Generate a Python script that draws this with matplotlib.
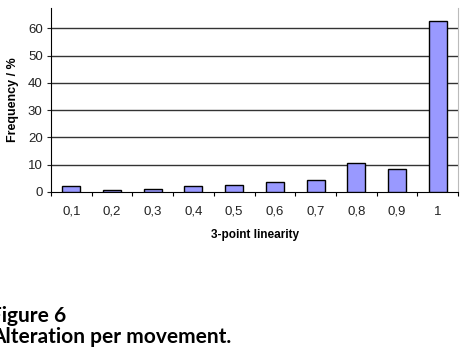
import numpy as np
import matplotlib.pyplot as plt

plt.rcParams['font.family'] = ['Liberation Sans', 'DejaVu Sans']

categories = ['0,1', '0,2', '0,3', '0,4', '0,5', '0,6', '0,7', '0,8', '0,9', '1']
frequency = [2.1, 0.85, 1.2, 2.1, 2.4, 3.7, 4.4, 10.5, 8.4, 62.9]

fig = plt.figure(figsize=(4.68, 3.52), dpi=100)
ax = fig.add_axes([51 / 468, 1 - 192 / 352, 407 / 468, 184 / 352])

x = np.arange(len(categories))
ax.bar(x, frequency, width=0.44, color='#9999ff', edgecolor='black', linewidth=1, zorder=3)

ax.set_xlim(-0.5, len(categories) - 0.5)
ax.set_ylim(0, 67.5)
ax.set_yticks(range(0, 70, 10))
ax.set_xticks(x)
ax.set_xticklabels(categories)
ax.set_xticks(np.arange(-0.5, len(categories), 1), minor=True)
ax.tick_params(axis='x', which='major', length=0, pad=10, labelsize=9.5, colors='#222222')
ax.tick_params(axis='x', which='minor', length=3, width=0.8, direction='out')
ax.tick_params(axis='y', length=3, width=0.8, direction='out', pad=3, labelsize=9.5, colors='#222222')

for v in range(10, 70, 10):
    ax.axhline(v, color='#333333', linewidth=1, zorder=1)

ax.spines['top'].set_visible(False)
ax.spines['right'].set_color('#bbbbbb')
ax.spines['left'].set_color('black')
ax.spines['bottom'].set_color('black')

ax.set_ylabel('Frequency / %', fontsize=9, fontweight='bold', labelpad=6)
ax.set_xlabel('3-point linearity', fontsize=8.5, fontweight='bold', labelpad=8)

# caption sits partly off the left edge, like the cropped source
fig.text(-10 / 468, 1 - 322 / 352, 'Figure 6', fontsize=15, fontweight='bold',
         family=['Lato', 'DejaVu Sans'], va='baseline', ha='left')
fig.text(-9 / 468, 1 - 343 / 352, 'Alteration per movement.', fontsize=15, fontweight='bold',
         family=['Lato', 'DejaVu Sans'], va='baseline', ha='left')

fig.savefig('out.png', dpi=100)
